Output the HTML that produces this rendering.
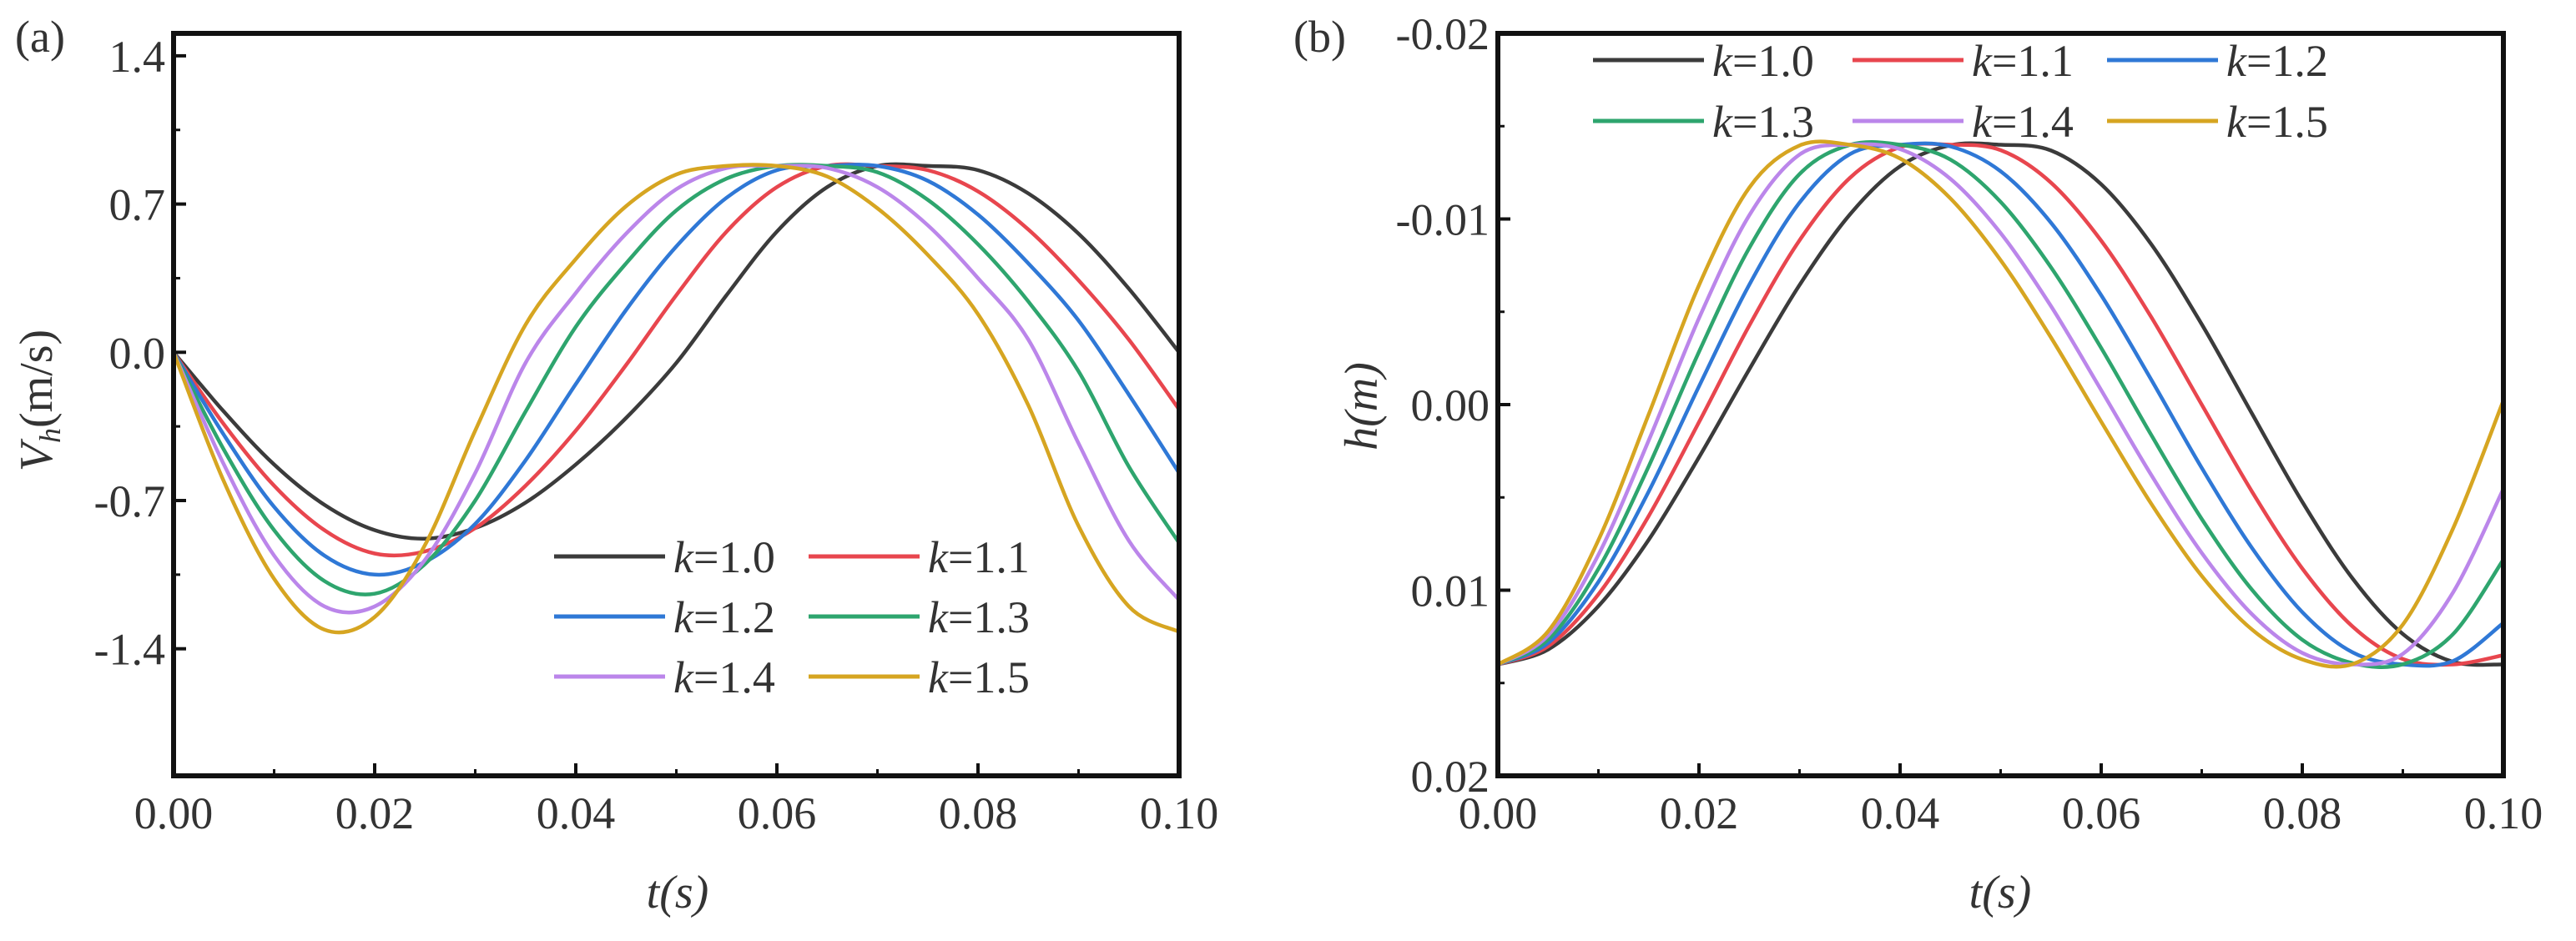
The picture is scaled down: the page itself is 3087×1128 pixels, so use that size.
<!DOCTYPE html>
<html><head><meta charset="utf-8"><style>
html,body{margin:0;padding:0;background:#fff;}
svg{display:block;font-family:"Liberation Serif",serif;}
</style></head><body>
<svg id="fig" width="3087" height="1128" viewBox="0 0 3087 1128" xmlns="http://www.w3.org/2000/svg">
<g id="pa"></g>
<g id="pb"></g>
</svg>
<script>
// shared data
const timeValues = [0,0.005,0.01,0.015,0.02,0.025,0.03,0.035,0.04,0.045,0.05,0.055,0.06,0.065,0.07,0.075,0.08,0.085,0.09,0.095,0.1];
const seriesNames = ["k=1.0","k=1.1","k=1.2","k=1.3","k=1.4","k=1.5"];
const seriesColors = ["#3b3b3b","#e8464e","#2f78d6","#2ea56e","#bb86ea","#d6a521"];
// panel (a): V_h (m/s)
const velK10 = [0,-0.28,-0.53,-0.72,-0.84,-0.88,-0.83,-0.71,-0.53,-0.31,-0.05,0.27,0.57,0.78,0.88,0.88,0.86,0.75,0.56,0.30,0.0];
const velK11 = [0,-0.34,-0.63,-0.84,-0.95,-0.94,-0.83,-0.63,-0.37,-0.06,0.27,0.57,0.78,0.88,0.88,0.86,0.76,0.58,0.34,0.06,-0.27];
const velK12 = [0,-0.39,-0.73,-0.96,-1.05,-0.99,-0.81,-0.51,-0.15,0.20,0.50,0.73,0.86,0.88,0.88,0.81,0.65,0.42,0.15,-0.20,-0.57];
const velK13 = [0,-0.46,-0.84,-1.08,-1.14,-1.00,-0.70,-0.28,0.12,0.42,0.67,0.82,0.88,0.88,0.85,0.72,0.51,0.24,-0.09,-0.54,-0.90];
const velK14 = [0,-0.53,-0.96,-1.20,-1.20,-0.98,-0.57,-0.05,0.28,0.56,0.77,0.87,0.88,0.87,0.78,0.60,0.35,0.06,-0.43,-0.89,-1.17];
const velK15 = [0,-0.61,-1.07,-1.31,-1.25,-0.91,-0.37,0.13,0.44,0.69,0.84,0.88,0.88,0.83,0.68,0.46,0.18,-0.25,-0.82,-1.20,-1.32];
const velTicks = [1.4,0.7,0.0,-0.7,-1.4];
const velTickLabels = ["1.4","0.7","0.0","-0.7","-1.4"];
// panel (b): h (mm, plotted as m)
const hK10 = [14,13.19,10.86,7.28,2.84,-1.90,-6.44,-10.24,-12.84,-13.97,-14,-13.69,-11.87,-8.62,-4.33,0.49,5.24,9.37,12.36,13.86,14];
const hK11 = [14,13.02,10.22,6.00,0.95,-4.26,-8.85,-12.21,-13.87,-14,-13.71,-11.96,-8.83,-4.69,0,4.69,8.83,11.96,13.71,14,13.5];
const hK12 = [14,12.84,9.55,4.68,-0.98,-6.46,-10.88,-13.49,-14,-13.91,-12.57,-9.80,-5.89,-1.32,3.41,7.73,11.18,13.35,14,13.81,11.76];
const hK13 = [14,12.65,8.85,3.32,-2.84,-8.44,-12.42,-13.99,-14,-13.20,-10.92,-7.40,-3.05,1.66,6.16,9.98,12.67,13.93,13.99,12.36,8.35];
const hK14 = [14,12.43,8.09,1.93,-4.65,-10.20,-13.47,-14,-13.76,-12.16,-9.24,-5.31,-0.78,3.81,7.99,11.30,13.38,14,13.43,10.11,4.54];
const hK15 = [14,12.21,7.30,0.52,-6.43,-11.69,-13.96,-14,-13.26,-11.11,-7.78,-3.62,0.92,5.36,9.23,12.12,13.73,13.98,11.85,6.66,-0.22];
const hTicks = [-0.02,-0.01,0.0,0.01,0.02];
const hTickLabels = ["-0.02","-0.01","0.00","0.01","0.02"];
const xTicks = [0,0.02,0.04,0.06,0.08,0.1];
const xTickLabels = ["0.00","0.02","0.04","0.06","0.08","0.10"];

const NS="http://www.w3.org/2000/svg";
function mk(tag,parent,attrs){const e=document.createElementNS(NS,tag);for(const k in attrs)e.setAttribute(k,attrs[k]);parent.appendChild(e);return e;}
function spline(pts){
  let d="M"+pts[0][0].toFixed(1)+","+pts[0][1].toFixed(1);
  for(let i=0;i<pts.length-1;i++){
    const p0=pts[i-1]||pts[i],p1=pts[i],p2=pts[i+1],p3=pts[i+2]||pts[i+1];
    const c1=[p1[0]+(p2[0]-p0[0])/6,p1[1]+(p2[1]-p0[1])/6];
    const c2=[p2[0]-(p3[0]-p1[0])/6,p2[1]-(p3[1]-p1[1])/6];
    d+="C"+c1[0].toFixed(1)+","+c1[1].toFixed(1)+" "+c2[0].toFixed(1)+","+c2[1].toFixed(1)+" "+p2[0].toFixed(1)+","+p2[1].toFixed(1);
  }
  return d;
}
function panel(g,cfg){
  const L=cfg.L,R=cfg.R,T=40,B=930;
  const xs=v=>L+(v-0)/(0.1-0)*(R-L);
  const ys=v=>T+(cfg.ymax-v)/(cfg.ymax-cfg.ymin)*(B-T);
  const cp=mk("clipPath",g,{id:cfg.id+"clip"});
  mk("rect",cp,{x:L,y:T,width:R-L,height:B-T});
  const lines=mk("g",g,{"clip-path":"url(#"+cfg.id+"clip)"});
  
  
  cfg.series.forEach((s,i)=>{
    const pts=timeValues.map((t,j)=>[xs(t),ys(s[j]*cfg.mult)]);
    const p=mk("path",lines,{d:spline(pts),fill:"none",stroke:seriesColors[i],"stroke-width":4.5,"stroke-linejoin":"round"});
    
    
  });
  const fr=mk("rect",g,{x:L,y:T,width:R-L,height:B-T,fill:"none",stroke:"#111","stroke-width":6});
  
  
  xTicks.forEach((v,i)=>{
    const x=xs(v);
    mk("line",g,{x1:x,y1:B,x2:x,y2:B-15,stroke:"#111","stroke-width":4});
    if(i<xTicks.length-1){const xm=xs(v+0.01);mk("line",g,{x1:xm,y1:B,x2:xm,y2:B-8,stroke:"#111","stroke-width":3});}
    const t=mk("text",g,{x:x,y:993,"text-anchor":"middle","font-size":54,fill:"#333"});
    t.textContent=xTickLabels[i];
    
    
  });
  cfg.ticks.forEach((v,i)=>{
    const y=ys(v);
    mk("line",g,{x1:L,y1:y,x2:L+15,y2:y,stroke:"#111","stroke-width":4});
    const t=mk("text",g,{x:L-10,y:y+19,"text-anchor":"end","font-size":54,fill:"#333"});
    t.textContent=cfg.tickLabels[i];
    
    
    if(i<cfg.ticks.length-1){const ym=ys((v+cfg.ticks[i+1])/2);mk("line",g,{x1:L,y1:ym,x2:L+8,y2:ym,stroke:"#111","stroke-width":3});}
  });
  const xt=mk("text",g,{x:cfg.xtx,y:1088,"text-anchor":"middle","font-size":56,fill:"#333","font-style":"italic"});
  xt.innerHTML=cfg.xtitle;
  
  
  const yt=mk("text",g,{x:0,y:0,"text-anchor":"middle","font-size":56,fill:"#333",transform:"translate("+cfg.ytx+","+cfg.yty+") rotate(-90)"});
  yt.innerHTML=cfg.ytitle;
  
  
  const pl=mk("text",g,{x:cfg.plx,y:62,"font-size":54,fill:"#333"});
  pl.textContent=cfg.plabel;
  
  
  const lg=mk("g",g,{});
  
  
  seriesNames.forEach((n,i)=>{
    const c=i%cfg.cols,r=Math.floor(i/cfg.cols);
    const x0=cfg.lgx[c],y0=cfg.lgy[r];
    const e=mk("g",lg,{});
    
    
    mk("line",e,{x1:x0,y1:y0,x2:x0+133,y2:y0,stroke:seriesColors[i],"stroke-width":5});
    const t=mk("text",e,{x:x0+143,y:y0+19,"font-size":54,fill:"#333"});
    t.innerHTML='<tspan font-style="italic">k</tspan>='+n.slice(2);
  });
}
panel(document.getElementById("pa"),{id:"a",L:208,R:1413,ymin:-2.0,ymax:1.506,mult:1,
  series:[velK10,velK11,velK12,velK13,velK14,velK15],ticks:velTicks,tickLabels:velTickLabels,
  xtx:812,xtitle:'t(<tspan>s</tspan>)',ytx:62,yty:480,ytitle:'<tspan font-style="italic">V</tspan><tspan font-size="36" dy="10" font-style="italic">h</tspan><tspan dy="-10">(m/s)</tspan>',
  plx:18,plabel:"(a)",cols:2,lgx:[664,969],lgy:[667,739,811]});
panel(document.getElementById("pb"),{id:"b",L:1795,R:3000,ymin:-0.02,ymax:0.02,mult:0.001,
  series:[hK10,hK11,hK12,hK13,hK14,hK15].map(a=>a.map(v=>-v)),ticks:hTicks.map(v=>-v),tickLabels:hTickLabels,
  xtx:2397,xtitle:'t(s)',ytx:1650,yty:487,ytitle:'<tspan font-style="italic">h(m)</tspan>',
  plx:1550,plabel:"(b)",cols:3,lgx:[1909,2220,2525],lgy:[72,145]});
</script>
</body></html>
